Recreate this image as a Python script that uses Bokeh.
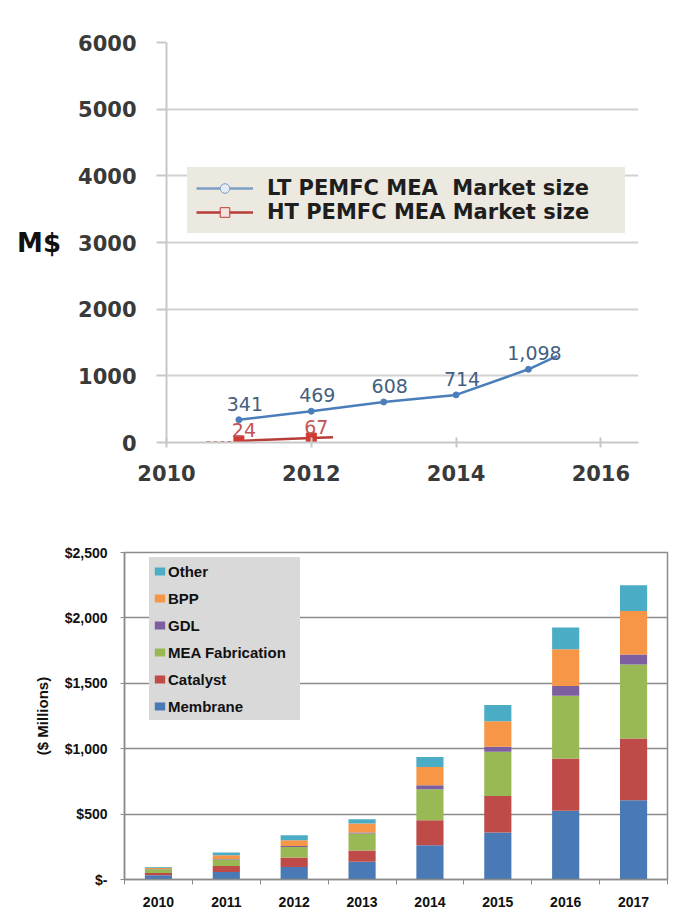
from bokeh.plotting import figure
from bokeh.models import (ColumnDataSource, Legend, LegendItem, FixedTicker,
                          NumeralTickFormatter, Range1d)
from bokeh.embed import file_html
from bokeh.resources import INLINE
from bokeh.core.properties import value

NAN = float("nan")

# ---------------- top chart data ----------------
lt_years = [2011, 2012, 2013, 2014, 2015]
lt_values = [341, 469, 608, 714, 1098]
lt_labels = ["341", "469", "608", "714", "1,098"]
lt_line_years = [2011, 2012, 2013, 2014, 2015, 2015.4]
lt_line_values = [341, 469, 608, 714, 1098, 1300]

ht_years = [2011, 2012]
ht_values = [24, 67]
ht_labels = ["24", "67"]
ht_line_years = [2011, 2012, 2012.3]
ht_line_values = [24, 67, 78]
ht_dash_years = [2010.55, 2011]
ht_dash_values = [2, 10]

top_y_ticks = [0, 1000, 2000, 3000, 4000, 5000, 6000]
top_x_ticks = [2010, 2012, 2014, 2016]

# ---------------- bottom chart data ----------------
years = ["2010", "2011", "2012", "2013", "2014", "2015", "2016", "2017"]
membrane = [33, 58, 96, 135, 262, 359, 525, 606]
catalyst = [17, 46, 72, 87, 191, 280, 400, 472]
mea_fab = [29, 49, 81, 130, 237, 337, 479, 566]
gdl = [2, 4, 8, 8, 31, 38, 76, 76]
bpp = [8, 29, 43, 68, 140, 196, 281, 333]
other = [7, 20, 39, 33, 76, 125, 166, 197]
series_names = ["Membrane", "Catalyst", "MEA Fabrication", "GDL", "BPP", "Other"]
series_colors = ["#4a7ab5", "#be4b48", "#98b954", "#7d5fa0", "#f79646", "#4bacc6"]
bottom_y_ticks = [0, 500, 1000, 1500, 2000, 2500]

W = 689
BLUE = "#4a7ebb"
RED = "#b83c38"
TOPFONT = "DejaVu Sans"
BOTFONT = "Liberation Sans"

# ================= top figure =================
p1 = figure(width=W, height=503, x_range=Range1d(2010, 2016.52), y_range=Range1d(0, 6000),
            output_backend="svg", toolbar_location=None,
            min_border_left=166, min_border_right=51, min_border_top=42, min_border_bottom=61)
p1.outline_line_color = None
p1.background_fill_color = "white"
p1.xgrid.grid_line_color = None
p1.ygrid.grid_line_color = "#d2d2d2"
p1.ygrid.grid_line_width = 2
p1.yaxis.ticker = FixedTicker(ticks=top_y_ticks)
p1.xaxis.ticker = FixedTicker(ticks=top_x_ticks)
for ax in (p1.xaxis[0], p1.yaxis[0]):
    ax.axis_line_color = "#c8c8c8"
    ax.axis_line_width = 2
    ax.major_tick_line_color = "#c8c8c8"
    ax.major_tick_line_width = 2
    ax.minor_tick_line_color = None
    ax.major_label_text_font = TOPFONT
    ax.major_label_text_font_style = "bold"
    ax.major_label_text_font_size = "21px"
    ax.major_label_text_color = "#3a3a3a"
p1.yaxis.major_tick_out = 10
p1.yaxis.major_tick_in = 0
p1.yaxis.major_label_standoff = 20
p1.xaxis.major_tick_out = 5
p1.xaxis.major_tick_in = 5
p1.xaxis.major_label_standoff = 17

p1.yaxis.axis_label = "M$"
p1.yaxis.axis_label_orientation = "horizontal"
p1.yaxis.axis_label_standoff = 14
p1.yaxis.axis_label_text_font = TOPFONT
p1.yaxis.axis_label_text_font_style = "bold"
p1.yaxis.axis_label_text_font_size = "26px"
p1.yaxis.axis_label_text_color = "#111111"

# lines
p1.line(x=lt_line_years, y=lt_line_values, line_color=BLUE, line_width=2.5)
p1.scatter(x=lt_years, y=lt_values, marker="circle", size=6, fill_color=BLUE, line_color=BLUE)
p1.line(x=ht_dash_years, y=ht_dash_values, line_color=RED, line_width=2, line_dash="4 3")
p1.line(x=ht_line_years, y=ht_line_values, line_color=RED, line_width=2.5)
p1.scatter(x=ht_years, y=ht_values, marker="square", size=10, fill_color="#d03a32", line_color="#d03a32")

# data labels
p1.text(x=lt_years, y=lt_values, text=lt_labels, x_offset=6, y_offset=-16,
        text_align="center", text_baseline="middle", text_font=value(TOPFONT),
        text_font_size="19px", text_color="#44607f")
p1.text(x=ht_years, y=ht_values, text=ht_labels, x_offset=5, y_offset=-11,
        text_align="center", text_baseline="middle", text_font=value(TOPFONT),
        text_font_size="19px", text_color="#c25552")

# legend (renderers with a single NaN row: nothing drawn in the plot, styled legend glyphs)
lg_lt_line = p1.line(x=[NAN], y=[NAN], line_color="#7c9ec6", line_width=2.5)
lg_lt_mark = p1.scatter(x=[NAN], y=[NAN], marker="circle", size=9, fill_color="#e2ebf5", line_color="#7c9ec6")
lg_ht_line = p1.line(x=[NAN], y=[NAN], line_color=RED, line_width=2.5)
lg_ht_mark = p1.scatter(x=[NAN], y=[NAN], marker="square", size=9, fill_color="#f8e0de", line_color=RED)
legend1 = Legend(items=[
    LegendItem(label="LT PEMFC MEA  Market size", renderers=[lg_lt_line, lg_lt_mark]),
    LegendItem(label="HT PEMFC MEA Market size", renderers=[lg_ht_line, lg_ht_mark])],
    location=(21, 209), background_fill_color="#ece9e0", background_fill_alpha=1,
    border_line_color="#ece9e0", border_line_width=9,
    glyph_width=57, glyph_height=24, label_height=24,
    label_width=349, label_standoff=14, spacing=0, padding=0, margin=0,
    label_text_font=TOPFONT, label_text_font_style="bold", label_text_font_size="21px",
    label_text_color="#1e1e1e")
p1.add_layout(legend1, "center")

# ================= bottom figure =================
n = len(years)
xc = [i + 0.5 for i in range(n)]
src = ColumnDataSource(data=dict(x=xc, Membrane=membrane, Catalyst=catalyst,
                                 **{"MEA Fabrication": mea_fab}, GDL=gdl, BPP=bpp, Other=other))

p2 = figure(width=W, height=409, x_range=Range1d(0, n), y_range=Range1d(0, 2500),
            output_backend="svg", toolbar_location=None,
            min_border_left=124, min_border_right=22, min_border_top=49, min_border_bottom=33)
p2.outline_line_color = "#8c8c8c"
p2.outline_line_width = 1.5
p2.xgrid.grid_line_color = None
p2.ygrid.grid_line_color = "#8c8c8c"
p2.ygrid.grid_line_width = 1.5

rs = p2.vbar_stack(series_names, x="x", width=0.4, color=series_colors, source=src, line_color=None)

p2.yaxis.ticker = FixedTicker(ticks=bottom_y_ticks)
p2.yaxis.formatter = NumeralTickFormatter(format="$0,0")
p2.yaxis.major_label_overrides = {0: "$-"}
p2.xaxis.ticker = FixedTicker(ticks=xc, minor_ticks=list(range(n + 1)))
p2.xaxis.major_label_overrides = {xc[i]: years[i] for i in range(n)}
for ax in (p2.xaxis[0], p2.yaxis[0]):
    ax.axis_line_color = "#8c8c8c"
    ax.axis_line_width = 1.5
    ax.major_tick_line_color = "#8c8c8c"
    ax.minor_tick_line_color = "#8c8c8c"
    ax.major_label_text_font = BOTFONT
    ax.major_label_text_font_style = "bold"
    ax.major_label_text_font_size = "14px"
    ax.major_label_text_color = "#111111"
p2.yaxis.major_tick_out = 4
p2.yaxis.major_tick_in = 0
p2.yaxis.minor_tick_line_color = None
p2.yaxis.major_label_standoff = 13
p2.xaxis.major_tick_out = 0
p2.xaxis.major_tick_in = 0
p2.xaxis.minor_tick_out = 5
p2.xaxis.minor_tick_in = 0
p2.xaxis.major_label_standoff = 12

p2.yaxis.axis_label = "($ Millions)"
p2.yaxis.axis_label_standoff = 11
p2.yaxis.axis_label_text_font = BOTFONT
p2.yaxis.axis_label_text_font_style = "bold"
p2.yaxis.axis_label_text_font_size = "15px"
p2.yaxis.axis_label_text_color = "#111111"

legend2 = Legend(items=[LegendItem(label=series_names[i], renderers=[rs[i]]) for i in reversed(range(len(rs)))],
                 location=(25, 159), background_fill_color="#d9d9d9", background_fill_alpha=1,
                 border_line_color="#d9d9d9", border_line_width=4,
                 glyph_width=13, glyph_height=10, label_height=20,
                 label_width=128, label_standoff=2, spacing=7, padding=0, margin=0,
                 label_text_font=BOTFONT, label_text_font_style="bold", label_text_font_size="15px",
                 label_text_color="#111111")
p2.add_layout(legend2, "center")

# two independent roots stacked on the page (keeps each chart's own frame position)
open("out.html", "w").write(file_html([p1, p2], INLINE))
